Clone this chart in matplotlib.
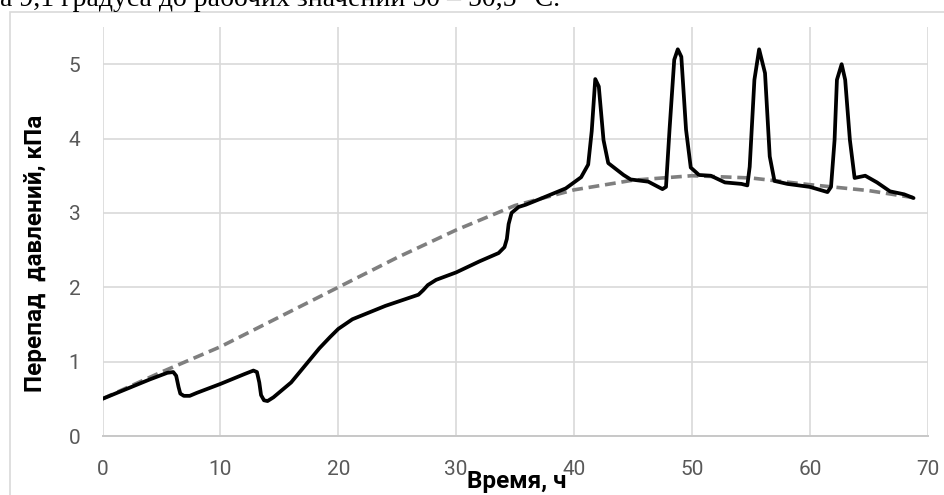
import numpy as np
import matplotlib as mpl
mpl.use('Agg')
import matplotlib.pyplot as plt
from matplotlib.patches import Rectangle

mpl.rcParams.update({'font.size': 14})
mpl.rcParams['font.family'] = ['Roboto', 'DejaVu Sans']

## Data

# measured pressure drop, kPa, against time, h
time_h = [0, 2, 4, 5.5, 6.0, 6.25, 6.45, 6.6, 6.9, 7.4, 8, 10, 12, 12.8,
          13.1, 13.3, 13.45, 13.7, 14.0, 14.5, 16, 18.4, 19.3, 20, 21.2, 24,
          26.8, 27.2, 27.6, 28.3, 30, 32, 33.6, 34.1, 34.3, 34.45, 34.7, 35.3,
          35.9, 37, 39.3, 40.6, 41.2, 41.5, 41.8, 42.1, 42.5, 42.9, 44.2,
          44.8, 46.3, 47.5, 47.8, 48.1, 48.5, 48.8, 49.1, 49.5, 49.9, 50.6,
          51.6, 52.8, 54.2, 54.7, 54.9, 55.3, 55.7, 56.2, 56.6, 57.0, 58.1,
          60, 61.5, 61.8, 62.1, 62.3, 62.7, 63.0, 63.4, 63.8, 64.7, 65.7,
          66.8, 68.0, 68.8]
dp_kpa = [0.5, 0.63, 0.76, 0.85, 0.86, 0.81, 0.66, 0.57, 0.54, 0.54, 0.58,
          0.7, 0.83, 0.88, 0.86, 0.72, 0.55, 0.48, 0.47, 0.52, 0.72, 1.18,
          1.33, 1.44, 1.57, 1.75, 1.9, 1.96, 2.03, 2.1, 2.2, 2.35, 2.46, 2.54,
          2.65, 2.85, 3.0, 3.08, 3.11, 3.18, 3.33, 3.48, 3.65, 4.1, 4.8, 4.7,
          3.98, 3.67, 3.51, 3.45, 3.42, 3.32, 3.35, 4.12, 5.06, 5.2, 5.1, 4.12,
          3.61, 3.51, 3.5, 3.41, 3.39, 3.37, 3.62, 4.79, 5.2, 4.88, 3.76, 3.43,
          3.39, 3.35, 3.28, 3.35, 3.98, 4.79, 5.0, 4.79, 3.98, 3.47, 3.5,
          3.41, 3.29, 3.25, 3.2]

# dashed trend line
trend_h = [0, 5, 10, 15, 20, 25, 30, 35, 40, 45, 50, 55, 60, 65, 69]
trend_kpa = [0.5, 0.86, 1.2, 1.6, 2.0, 2.4, 2.77, 3.1, 3.31, 3.44, 3.5,
             3.47, 3.38, 3.3, 3.2]

xticks = [0, 10, 20, 30, 40, 50, 60, 70]
yticks = [0, 1, 2, 3, 4, 5]

W, H = 944, 495
fig = plt.figure(figsize=(W / 100, H / 100), dpi=100)

# chart frame
fig.patches.append(Rectangle((10 / W, -0.1), 1.2, 1 - 12 / H + 0.1,
                             transform=fig.transFigure, fill=False,
                             edgecolor='#d9d9d9', linewidth=1.2))

# cut-off line of the document text above the chart
fig.text(-15 / W, 1 - 6 / H, 'на 9,1 градуса до рабочих значений 50 – 50,5 °С.',
         family='Liberation Serif', fontsize=20, color='black',
         ha='left', va='baseline')

ax = fig.add_axes([102.5 / W, 1 - 436 / H, (927.7 - 102.5) / W, (436 - 27) / H])

ax.plot(trend_h, trend_kpa, color='#7f7f7f', linewidth=2.6,
        dashes=(3.0, 1.6), solid_joinstyle='round', zorder=3)
ax.plot(time_h, dp_kpa, color='black', linewidth=2.7,
        solid_joinstyle='round', solid_capstyle='round', zorder=4)

ax.set_xlim(0, 70)
ax.set_ylim(0, 5.5)
ax.set_xticks(xticks)
ax.set_yticks(yticks)
ax.grid(True, color='#d9d9d9', linewidth=1.2)
ax.set_axisbelow(True)
for s in ['top', 'right', 'left']:
    ax.spines[s].set_visible(False)
ax.spines['bottom'].set_color('#c8c8c8')
ax.spines['bottom'].set_linewidth(1.4)
ax.tick_params(axis='both', length=0, labelcolor='#595959', labelsize=15)
ax.tick_params(axis='x', pad=17)
ax.tick_params(axis='y', pad=16)

fig.text(467 / W, 1 - 488 / H, 'Время, ч', fontweight='bold', fontsize=17.5,
         ha='left', va='baseline')
fig.text(36 / W, 1 - 253.5 / H, 'Перепад  давлений, кПа', fontweight='bold',
         fontsize=17.5, rotation=90, ha='center', va='center')

fig.savefig('out.png', dpi=100)
